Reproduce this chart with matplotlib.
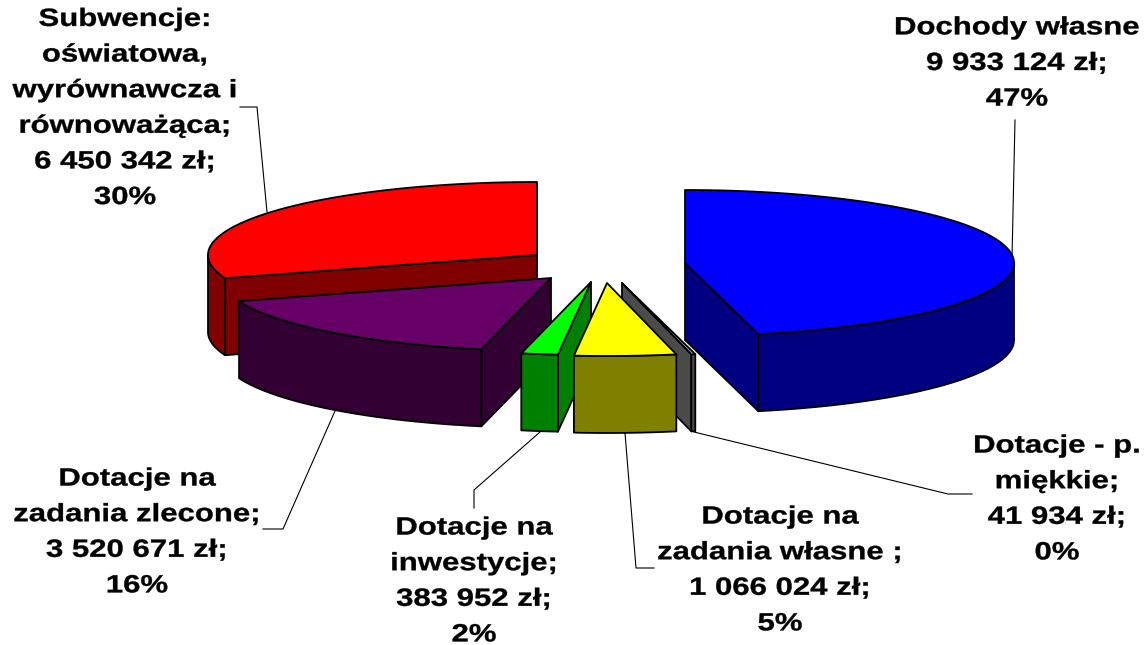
import numpy as np
import matplotlib
matplotlib.use("Agg")
import matplotlib.pyplot as plt
from matplotlib.patches import Polygon
from matplotlib.patheffects import AbstractPathEffect
from matplotlib.transforms import Affine2D

# Data, clockwise from 12 o'clock
names = ["Dochody własne", "Dotacje - p. miękkie", "Dotacje na zadania własne",
         "Dotacje na inwestycje", "Dotacje na zadania zlecone", "Subwencje"]
values = [9933124, 41934, 1066024, 383952, 3520671, 6450342]
label_texts = [
    "Dochody własne\n9 933 124 zł;\n47%",
    "Dotacje - p.\nmiękkie;\n41 934 zł;\n0%",
    "Dotacje na\nzadania własne ;\n1 066 024 zł;\n5%",
    "Dotacje na\ninwestycje;\n383 952 zł;\n2%",
    "Dotacje na\nzadania zlecone;\n3 520 671 zł;\n16%",
    "Subwencje:\noświatowa,\nwyrównawcza i\nrównoważąca;\n6 450 342 zł;\n30%",
]

# Styles and layout (pixel space)
top_colors = ["#0000FF", "#969696", "#FFFF00", "#00FF00", "#660066", "#FF0000"]
side_colors = ["#000080", "#4B4B4B", "#808000", "#008000", "#330033", "#800000"]
apexes = [(685, 263), (622, 283), (607, 283), (591, 282), (551, 278), (537, 255)]
label_pos = [(1017, 63), (1057, 499), (780, 570), (474, 581), (137, 532), (125, 108)]
leaders = [
    [(1015, 120), (1012, 258)],
    [(694, 432), (948, 494), (972, 494)],
    [(625, 433), (636, 568), (654, 568)],
    [(540, 432), (474, 490), (474, 508)],
    [(335, 411), (283, 529), (263, 529)],
    [(240, 107), (257, 107), (267, 212)],
]
RX, RY, DEPTH = 329, 73, 77
TEXT_STRETCH = 1.245
draw_order = [5, 4, 0, 1, 3, 2]


class StretchX(AbstractPathEffect):
    """Widen and slightly embolden glyphs, as in the reference's wide label font."""

    def __init__(self, sx, cx, weight=0.25):
        super().__init__()
        self.tr = Affine2D().translate(-cx, 0).scale(sx, 1).translate(cx, 0)
        self.weight = weight

    def draw_path(self, renderer, gc, tpath, affine, rgbFace=None):
        gc.set_linewidth(self.weight)
        gc.set_foreground("black")
        renderer.draw_path(gc, tpath, affine + self.tr, rgbFace)


fig = plt.figure(figsize=(11.44, 6.45), dpi=100)
ax = fig.add_axes([0, 0, 1, 1])
ax.set_xlim(0, 1144)
ax.set_ylim(645, 0)
ax.axis("off")

fracs = np.array(values) / sum(values)
edges = np.concatenate([[0], np.cumsum(fracs)]) * 360


def arc(c, a0, a1, dy=0):
    t = np.radians(np.linspace(a0, a1, max(int(abs(a1 - a0) * 2), 2)))
    return np.column_stack([c[0] + RX * np.sin(t), c[1] - RY * np.cos(t) + dy])


LW = 1.3
for rank, i in enumerate(draw_order):
    s, e, c = edges[i], edges[i + 1], apexes[i]
    kw = dict(closed=True, ec="black", lw=LW, joinstyle="round")
    # visible radial faces
    for ang, vis in ((s, np.sin(np.radians(s)) < 0), (e, np.sin(np.radians(e)) > 0)):
        if vis:
            p = arc(c, ang, ang)[0]
            ax.add_patch(Polygon([c, p, (p[0], p[1] + DEPTH), (c[0], c[1] + DEPTH)],
                                 fc=side_colors[i], zorder=rank * 3 + 1, **kw))
    # visible outer wall
    a0, a1 = max(s, 90), min(e, 270)
    if a1 > a0:
        ax.add_patch(Polygon(np.vstack([arc(c, a0, a1), arc(c, a1, a0, DEPTH)]),
                             fc=side_colors[i], zorder=rank * 3 + 2, **kw))
    # top face
    ax.add_patch(Polygon(np.vstack([[c], arc(c, s, e)]), fc=top_colors[i],
                         zorder=rank * 3 + 3, **kw))

for pts in leaders:
    xs, ys = zip(*pts)
    ax.plot(xs, ys, color="black", lw=0.8, zorder=0.5)

for txt, (x, y) in zip(label_texts, label_pos):
    ax.text(x, y, txt, ha="center", va="center", family="Liberation Sans",
            fontweight="bold", fontsize=18, linespacing=1.612, color="black", zorder=50,
            path_effects=[StretchX(TEXT_STRETCH, x)])

fig.savefig("out.png", dpi=100, facecolor="white")
